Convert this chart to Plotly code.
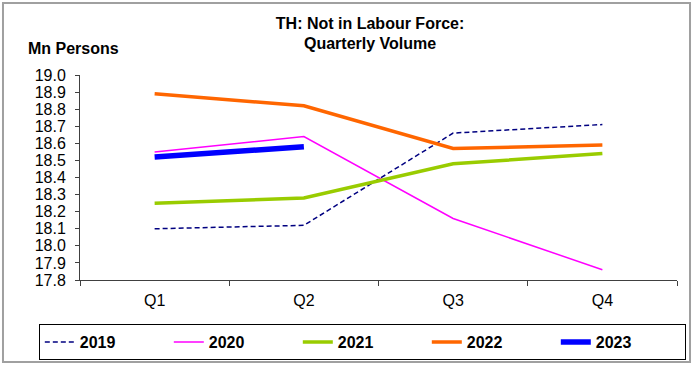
import plotly.graph_objects as go

quarters = ['Q1', 'Q2', 'Q3', 'Q4']
y2019 = [18.10, 18.12, 18.66, 18.71]
y2020 = [18.55, 18.64, 18.16, 17.86]
y2021 = [18.25, 18.28, 18.48, 18.54]
y2022 = [18.89, 18.82, 18.57, 18.59]
y2023 = [18.52, 18.58]

yticks = [17.8, 17.9, 18.0, 18.1, 18.2, 18.3, 18.4, 18.5, 18.6, 18.7, 18.8, 18.9, 19.0]

fig = go.Figure()
fig.add_trace(go.Scatter(x=quarters, y=y2019, name='<b>2019</b>', mode='lines',
                         line=dict(color='#000080', width=1.5, dash='5px,3px')))
fig.add_trace(go.Scatter(x=quarters, y=y2020, name='<b>2020</b>', mode='lines',
                         line=dict(color='#ff00ff', width=1.5)))
fig.add_trace(go.Scatter(x=quarters, y=y2021, name='<b>2021</b>', mode='lines',
                         line=dict(color='#99cc00', width=3.5)))
fig.add_trace(go.Scatter(x=quarters, y=y2022, name='<b>2022</b>', mode='lines',
                         line=dict(color='#ff6600', width=3.5)))
fig.add_trace(go.Scatter(x=quarters[:2], y=y2023, name='<b>2023</b>', mode='lines',
                         line=dict(color='#0000ff', width=5.5)))

fig.update_layout(
    width=693, height=367,
    margin=dict(l=80, r=16, t=75, b=87, autoexpand=False),
    paper_bgcolor='white', plot_bgcolor='white',
    font=dict(family='Liberation Sans, Arial', size=16, color='black'),
    title=dict(text='<b>TH: Not in Labour Force:<br>Quarterly Volume</b>',
               x=0.534, xanchor='center', y=0.922, yanchor='top',
               font=dict(size=16)),
    xaxis=dict(type='category', tickson='boundaries', ticks='outside', ticklen=5,
               tickcolor='#404040', showline=True, linecolor='#404040', linewidth=1,
               showgrid=False, range=[-0.5, 3.5], ticklabelstandoff=6),
    yaxis=dict(range=[17.8, 19.0], tickvals=yticks, tickformat='.1f',
               ticks='outside', ticklen=4, tickcolor='#404040',
               showline=True, linecolor='#404040', linewidth=1,
               showgrid=False, zeroline=False, ticklabelstandoff=6),
    legend=dict(orientation='h', x=-0.069, xanchor='left', y=-0.215, yanchor='top',
                bordercolor='black', borderwidth=1, entrywidth=84,
                font=dict(size=16, family='Liberation Sans, Arial'),
                itemwidth=30),
    annotations=[dict(text='<b>Mn Persons</b>', xref='paper', yref='paper',
                      x=-0.09, y=1.13, xanchor='left', yanchor='middle',
                      showarrow=False, font=dict(size=16))],
    shapes=[dict(type='rect', xref='paper', yref='paper',
                 x0=-0.129, x1=1.0218, y0=-0.4, y1=1.351,
                 line=dict(color='#a0a0a0', width=2))],
)

fig.write_html("out.html", config={'displayModeBar': False},
               post_script="document.body.style.margin='0px';")
